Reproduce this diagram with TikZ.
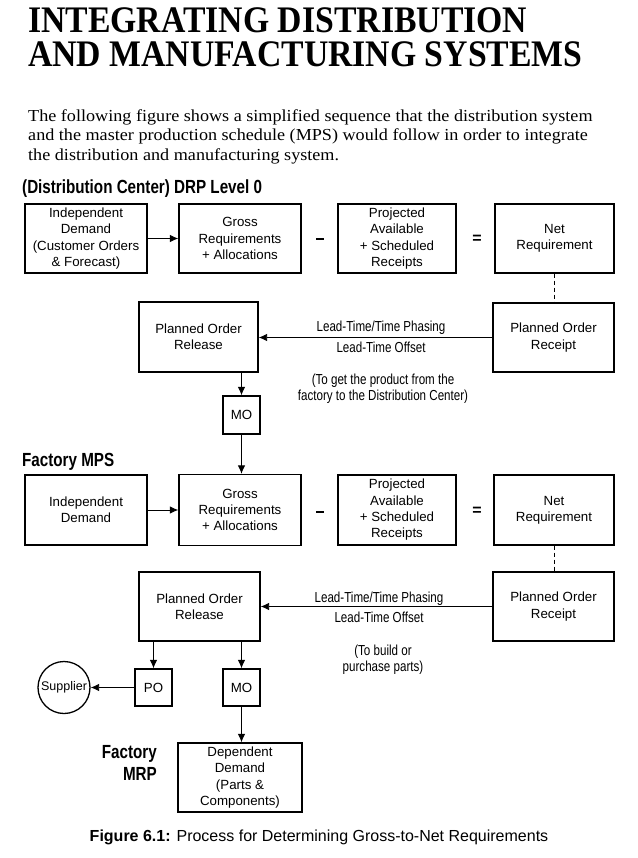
\documentclass[tikz,border=0pt]{standalone}
\usepackage{fontspec}
\setmainfont{Liberation Sans}
\newfontfamily\titlefont[FakeStretch=0.9]{Liberation Serif}
\newfontfamily\parafont[FakeStretch=1.08]{Liberation Serif}
\newfontfamily\narrowfont[FakeStretch=0.8]{Liberation Sans}
\usetikzlibrary{arrows.meta}
\begin{document}
\begin{tikzpicture}[x=1pt,y=-1pt,
  box/.style={draw,line width=1.3pt,align=center,inner sep=0pt,font=\fontsize{13.3}{16.3}\selectfont},
  smallbox/.style={box,minimum width=37pt,minimum height=37pt},
  arr/.style={line width=0.9pt,-{Latex[length=8.5pt,width=7.5pt]}},
  conn/.style={line width=0.9pt},
  lbl/.style={inner sep=0pt,anchor=base,font=\narrowfont\fontsize{14.5}{16}\selectfont},
  note/.style={inner sep=0pt,align=center,font=\narrowfont\fontsize{14.5}{16}\selectfont},
  head/.style={inner sep=0pt,font=\narrowfont\bfseries\fontsize{19}{21}\selectfont},
  dashsign/.style={fill,minimum width=8pt,minimum height=2pt,inner sep=0pt},
  op/.style={inner sep=0pt,font=\bfseries\fontsize{16}{16}\selectfont},
  titletxt/.style={inner sep=0pt,anchor=base west,font=\titlefont\bfseries\fontsize{37.5}{40}\selectfont},
  paratxt/.style={inner sep=0pt,anchor=base west,font=\parafont\fontsize{16.8}{19}\selectfont}
]
\useasboundingbox (0,0) rectangle (637,858);

% title and paragraph
\node[titletxt] (t1) at (28,33) {INTEGRATING DISTRIBUTION};
\node[titletxt] (t2) at (28,67) {AND MANUFACTURING SYSTEMS};
\node[paratxt] (p1) at (28,121.5) {The following figure shows a simplified sequence that the distribution system};
\node[paratxt] (p2) at (28,141) {and the master production schedule (MPS) would follow in order to integrate};
\node[paratxt] (p3) at (28,160.5) {the distribution and manufacturing system.};

% headings
\node[head,anchor=base west] (h1) at (22,194) {(Distribution Center) DRP Level 0};
\node[head,anchor=base west] (h2) at (22,466) {Factory MPS};
\node[head,anchor=base east] (h3a) at (157,758) {Factory};
\node[head,anchor=base east] (h3b) at (157,780) {MRP};

% row 1
\node[box,minimum width=122pt,minimum height=69pt] (id1) at (86,238.5) {Independent\\Demand\\(Customer Orders\\\& Forecast)};
\node[box,minimum width=122pt,minimum height=69pt] (gr1) at (240,238.5) {Gross\\Requirements\\+ Allocations};
\node[box,minimum width=118pt,minimum height=69pt] (pa1) at (397,238.5) {Projected\\Available\\+ Scheduled\\Receipts};
\node[box,minimum width=119pt,minimum height=69pt] (nr1) at (554.5,238.5) {Net\\Requirement};
\node[dashsign] (m1) at (319.5,239.5) {};
\node[op] (e1) at (477,239) {=};

% row 2
\node[box,minimum width=119pt,minimum height=70pt] (rel1) at (198.5,337) {Planned Order\\Release};
\node[box,minimum width=121pt,minimum height=69pt] (rec1) at (553.5,337.5) {Planned Order\\Receipt};
\node[smallbox,minimum height=38pt] (mo1) at (241.5,415) {MO};
\node[lbl] (l1a) at (381,331) {Lead-Time/Time Phasing};
\node[lbl] (l1b) at (381,352) {Lead-Time Offset};
\node[note] (n1) at (383,389) {(To get the product from the\\factory to the Distribution Center)};

% row 3
\node[box,minimum width=122pt,minimum height=70pt] (id2) at (86,510) {Independent\\Demand};
\node[box,minimum width=122pt,minimum height=71pt] (gr2) at (240,510) {Gross\\Requirements\\+ Allocations};
\node[box,minimum width=118pt,minimum height=70pt] (pa2) at (397,510) {Projected\\Available\\+ Scheduled\\Receipts};
\node[box,minimum width=120pt,minimum height=70pt] (nr2) at (554,510) {Net\\Requirement};
\node[dashsign] (m2) at (319.5,511.5) {};
\node[op] (e2) at (477,511) {=};

% row 4
\node[box,minimum width=121pt,minimum height=69pt] (rel2) at (199.5,606.5) {Planned Order\\Release};
\node[box,minimum width=121pt,minimum height=69pt] (rec2) at (553.5,606.5) {Planned Order\\Receipt};
\node[lbl] (l2a) at (379,602) {Lead-Time/Time Phasing};
\node[lbl] (l2b) at (379,622) {Lead-Time Offset};
\node[note] (n2) at (383,660) {(To build or\\purchase parts)};
\node[smallbox] (po2) at (153.5,687.5) {PO};
\node[smallbox] (mo2) at (241.5,687.5) {MO};
\node[draw,circle,line width=1.3pt,minimum size=52pt,inner sep=0pt,font=\fontsize{12.5}{16}\selectfont] (sup) at (64,687.5) {Supplier};
\node[box,minimum width=124pt,minimum height=69pt] (dd) at (240,777.5) {Dependent\\Demand\\(Parts \&\\Components)};

% caption
\node[inner sep=0pt,anchor=base,font=\fontsize{16}{18}\selectfont] (cap) at (319,841) {\textbf{Figure 6.1:} Process for Determining Gross-to-Net Requirements};

% connectors
\draw[arr] (id1.east) -- (gr1.west);
\draw[conn,dashed,dash pattern=on 4pt off 3pt] (nr1.south) -- (nr1.south |- rec1.north);
\draw[arr] (rec1.west) -- (rel1.east |- rec1.west);
\draw[arr] (rel1.south -| mo1.north) -- (mo1.north);
\draw[arr] (mo1.south) -- (mo1.south |- gr2.north);
\draw[arr] (id2.east) -- (gr2.west);
\draw[conn,dashed,dash pattern=on 4pt off 3pt] (nr2.south) -- (nr2.south |- rec2.north);
\draw[arr] (rec2.west) -- (rel2.east |- rec2.west);
\draw[arr] (rel2.south -| po2.north) -- (po2.north);
\draw[arr] (rel2.south -| mo2.north) -- (mo2.north);
\draw[arr] (po2.west) -- (sup.east);
\draw[arr] (mo2.south) -- (mo2.south |- dd.north);
\end{tikzpicture}
\end{document}
